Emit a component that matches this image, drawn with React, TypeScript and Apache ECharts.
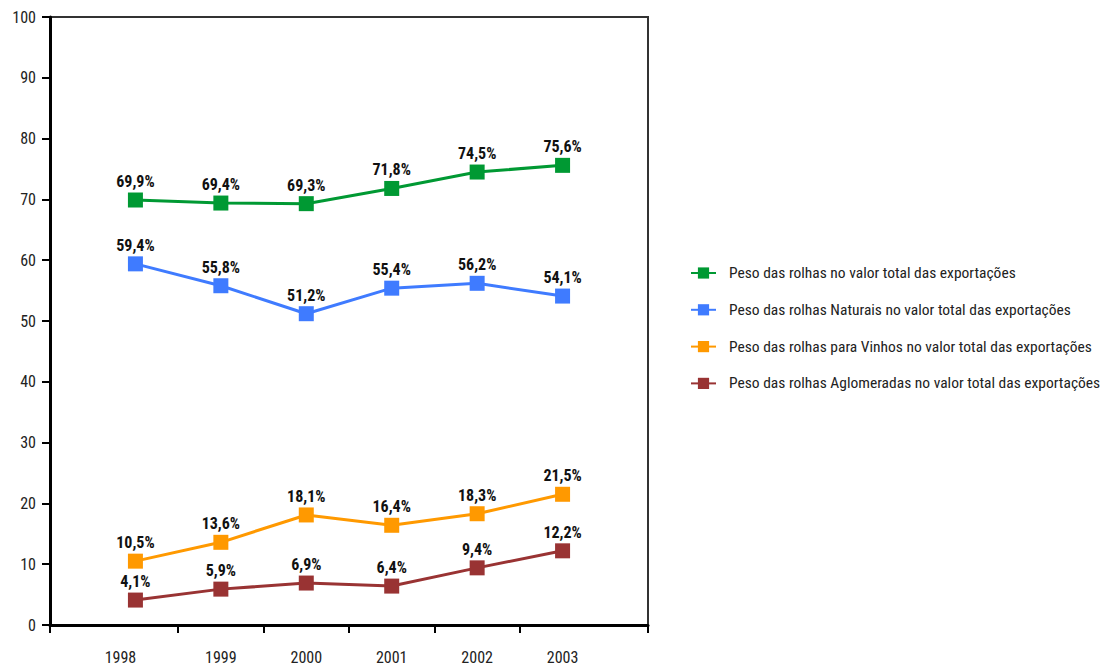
import React, { useEffect, useRef } from "react";
import * as echarts from "echarts";

const years = ["1998", "1999", "2000", "2001", "2002", "2003"];
const seriesNames = [
  "Peso das rolhas no valor total das exportações",
  "Peso das rolhas Naturais no valor total das exportações",
  "Peso das rolhas para Vinhos no valor total das exportações",
  "Peso das rolhas Aglomeradas no valor total das exportações",
];
const totalValues = [69.9, 69.4, 69.3, 71.8, 74.5, 75.6];
const naturaisValues = [59.4, 55.8, 51.2, 55.4, 56.2, 54.1];
const vinhosValues = [10.5, 13.6, 18.1, 16.4, 18.3, 21.5];
const aglomeradasValues = [4.1, 5.9, 6.9, 6.4, 9.4, 12.2];
const colors = ["#009933", "#3f7bff", "#ff9900", "#993333"];
const yTicks = [0, 10, 20, 30, 40, 50, 60, 70, 80, 90, 100];

const FONT = "'Roboto Condensed', 'Roboto', sans-serif";

export default function App() {
  const ref = useRef<HTMLDivElement>(null);
  useEffect(() => {
    if (!ref.current) return;
    const chart = echarts.init(ref.current, null, { renderer: "svg" });
    const all = [totalValues, naturaisValues, vinhosValues, aglomeradasValues];
    const series = all.map((vals, si) => ({
      name: seriesNames[si],
      type: "line",
      data: vals.map((v, i) => [i, v]),
      symbol: "rect",
      symbolSize: 15,
      lineStyle: { color: colors[si], width: 3 },
      itemStyle: { color: colors[si] },
      label: {
        show: true,
        position: "top",
        distance: 3,
        fontFamily: FONT,
        fontWeight: "bold",
        fontSize: 16,
        color: "#111",
        formatter: (p: any) => p.value[1].toFixed(1).replace(".", ",") + "%",
      },
    }));
    chart.setOption({
      animation: false,
      backgroundColor: "#fff",
      grid: {
        left: 50,
        top: 17,
        right: 459,
        bottom: 41,
        show: true,
        borderColor: "#333",
        borderWidth: 2,
      },
      legend: {
        orient: "vertical",
        left: 685,
        top: 260,
        itemWidth: 25,
        itemHeight: 14,
        itemGap: 20.8,
        textStyle: {
          fontFamily: FONT,
          fontSize: 15.5,
          color: "#222",
          padding: [0, 0, 0, 8],
        },
        data: seriesNames,
      },
      xAxis: {
        type: "value",
        min: -1,
        max: 6,
        splitLine: { show: false },
        axisLine: { show: true, lineStyle: { color: "#000", width: 3 } },
        axisTick: {
          show: true,
          length: 8,
          lineStyle: { color: "#000", width: 2 },
          customValues: [-1, 0.5, 1.5, 2.5, 3.5, 4.5, 6],
        },
        axisLabel: {
          customValues: [0, 1, 2, 3, 4, 5],
          margin: 24,
          fontFamily: FONT,
          fontSize: 16,
          color: "#222",
          formatter: (v: number) => {
            const y = years[Math.round(v)];
            return Math.round(v) === 0 ? "{s|" + y + "}" : y;
          },
          rich: {
            s: { padding: [0, 30, 0, 0], fontFamily: FONT, fontSize: 16, color: "#222" },
          },
        },
      },
      yAxis: {
        type: "value",
        min: yTicks[0],
        max: yTicks[yTicks.length - 1],
        interval: 10,
        splitLine: { show: false },
        axisLine: { show: true, onZero: false, lineStyle: { color: "#000", width: 3 } },
        axisTick: { show: true, length: 8, lineStyle: { color: "#000", width: 2 } },
        axisLabel: {
          margin: 14,
          fontFamily: FONT,
          fontSize: 16,
          color: "#222",
        },
      },
      series,
    });
    return () => chart.dispose();
  }, []);
  return <div ref={ref} style={{ width: 1107, height: 666, position: "absolute", left: 0, top: 0 }} />;
}
